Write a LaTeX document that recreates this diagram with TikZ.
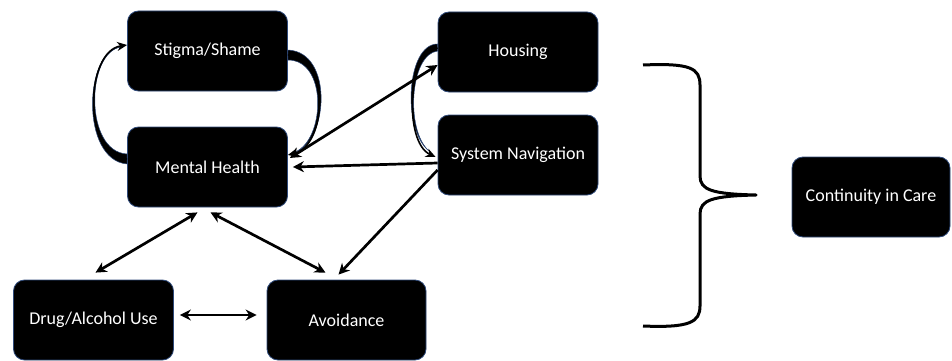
\documentclass[tikz,border=0pt]{standalone}
\usepackage{fontspec}
\setmainfont{Carlito}
\usetikzlibrary{arrows.meta}
\definecolor{boxedge}{HTML}{2F4A7A}
\begin{document}
\begin{tikzpicture}[x=1pt,y=-1pt,
  box/.style={rectangle, rounded corners=11pt, fill=black, draw=boxedge, line width=0.8pt,
    text=white, font=\fontsize{18}{20}\selectfont, minimum width=160pt, minimum height=80pt, inner sep=0pt},
  conn/.style={line width=2.7pt, black, {Stealth[length=11pt,width=11pt]}-{Stealth[length=11pt,width=11pt]}},
  oneway/.style={line width=2.7pt, black, -{Stealth[length=11pt,width=11pt]}},
  curv/.style={line width=1.6pt, black, -{Stealth[length=10pt,width=9pt]}},
  taper/.style={fill=black, draw=boxedge, line width=0.5pt},
  brace/.style={line width=3pt, black, line join=round}]
\useasboundingbox (0,0) rectangle (952,361);
\node[box] (stigma) at (207.5,51) {Stigma/Shame};
\node[box] (mh) at (207.5,167) {Mental Health};
\node[box] (housing) at (518,52) {Housing};
\node[box] (sysnav) at (518,155) {System Navigation};
\node[box] (drug) at (93.5,320) {Drug/Alcohol Use};
\node[box, minimum width=159pt] (avoid) at (346.5,320) {Avoidance};
\node[box, minimum width=158pt] (care) at (871,197) {Continuity in Care};
% curved loops (tapered bodies + arrow)
\coordinate (tl) at (121,47);
\fill[taper] ([shift={(0,-3)}]mh.west) .. controls (80,160) and (84,50) .. (tl)
  .. controls (86,52) and (84,152) .. ([shift={(0,-13)}]mh.west) -- cycle;
\draw[curv] ([shift={(0,-8)}]mh.west) .. controls (82,156) and (85,51) .. ([shift={(0,-6)}]stigma.west);
\coordinate (tr) at (295,152);
\fill[taper] ([shift={(0,-1)}]stigma.east) .. controls (334,52) and (328,142) .. (tr)
  .. controls (325,140) and (328,60) .. ([shift={(0,9)}]stigma.east) -- cycle;
\draw[curv] ([shift={(0,4)}]stigma.east) .. controls (331,56) and (327,146) .. ([shift={(0,-12)}]mh.east);
\coordinate (th) at (429,151);
\fill[taper] ([shift={(0,-8)}]housing.west) .. controls (406,44) and (402,130) .. (th)
  .. controls (405,130) and (410,54) .. ([shift={(0,-1)}]housing.west) -- cycle;
\draw[curv] ([shift={(0,-4)}]housing.west) .. controls (408,49) and (403,142) .. ([shift={(-2,2)}]sysnav.west);
% straight connectors
\draw[conn] ([yshift=-13pt]housing.west) -- ([xshift=2pt,yshift=9pt]mh.east);
\draw[oneway] ([yshift=-8pt]sysnav.west) -- ([xshift=5pt]mh.east);
\draw[oneway] ([yshift=-15pt]sysnav.west) -- ([xshift=-8pt,yshift=5pt]avoid.north);
\draw[conn] ([xshift=-10pt,yshift=-5pt]mh.south) -- ([xshift=2pt,yshift=7pt]drug.north);
\draw[conn] ([xshift=3pt,yshift=-5pt]mh.south) -- ([xshift=-21pt,yshift=7pt]avoid.north);
\draw[conn] ([xshift=6pt,yshift=5pt]drug.east) -- ([xshift=-10pt,yshift=5pt]avoid.west);
% brace
\coordinate (btop) at (643,65);
\coordinate (bbot) at (643,326);
\coordinate (btip) at (756,195);
\draw[brace] (btop) .. controls (690,63) and (700,68) .. (700,85) -- (700,176)
  .. controls (700,190) and (712,194) .. (btip)
  .. controls (712,196) and (700,200) .. (700,214) -- (700,306)
  .. controls (700,322) and (690,328) .. (bbot);
\end{tikzpicture}
\end{document}
